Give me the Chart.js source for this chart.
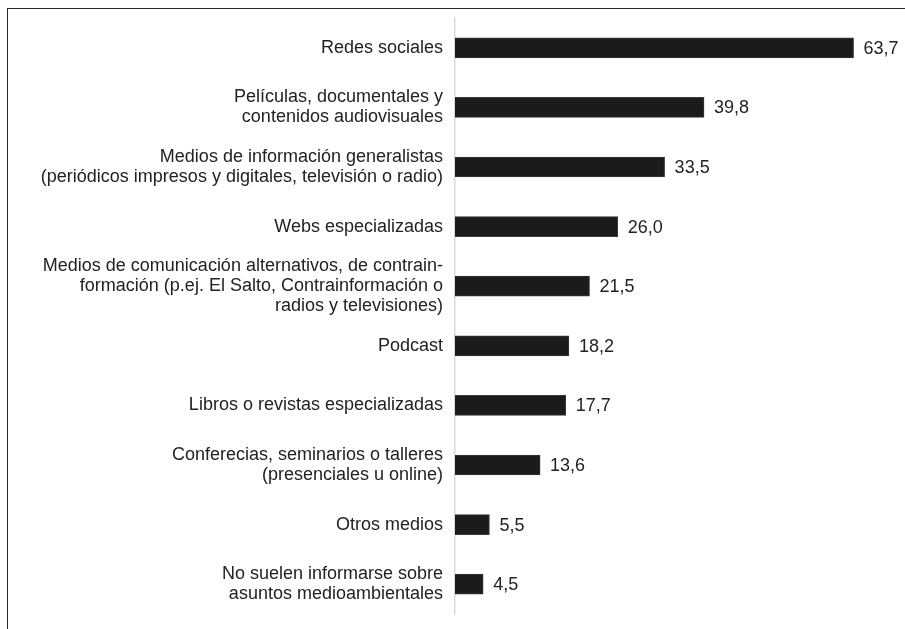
<!DOCTYPE html>
<html>
<head>
<meta charset="utf-8">
<script src="https://cdn.jsdelivr.net/npm/chart.js@4/dist/chart.umd.min.js"></script>
<style>
  html, body { margin: 0; padding: 0; background: #fff; }
  #wrap { position: relative; width: 905px; height: 629px; overflow: hidden; }
  #frame {
    position: absolute; left: 7px; top: 8px; right: -10px; bottom: -10px;
    border-top: 1.5px solid #2a2a2a; border-left: 1.5px solid #2a2a2a;
    pointer-events: none;
  }
  canvas { position: absolute; left: 0; top: 0; }
</style>
</head>
<body>
<div id="wrap">
  <canvas id="fuentesChart" width="905" height="629"></canvas>
  <div id="frame"></div>
</div>
<script>
const categories = [
  'Redes sociales',
  ['Películas, documentales y', 'contenidos audiovisuales'],
  ['Medios de información generalistas', '(periódicos impresos y digitales, televisión o radio)'],
  'Webs especializadas',
  ['Medios de comunicación alternativos, de contrain-', 'formación (p.ej. El Salto, Contrainformación o', 'radios y televisiones)'],
  'Podcast',
  'Libros o revistas especializadas',
  ['Conferecias, seminarios o talleres', '(presenciales u online)'],
  'Otros medios',
  ['No suelen informarse sobre', 'asuntos medioambientales']
];
const percentages = [63.7, 39.8, 33.5, 26.0, 21.5, 18.2, 17.7, 13.6, 5.5, 4.5];

const textFont = { family: '"Liberation Sans", Arial, Helvetica, sans-serif', size: 18 };

// writes each value with a decimal comma just past the end of its bar
const valueLabels = {
  id: 'valueLabels',
  afterDatasetsDraw(chart) {
    const ctx = chart.ctx;
    const meta = chart.getDatasetMeta(0);
    ctx.save();
    ctx.font = `${textFont.size}px ${textFont.family}`;
    ctx.fillStyle = '#222';
    ctx.textAlign = 'left';
    ctx.textBaseline = 'middle';
    meta.data.forEach((bar, i) => {
      const txt = percentages[i].toFixed(1).replace('.', ',');
      ctx.fillText(txt, bar.x + 10, bar.y + 1);
    });
    ctx.restore();
  }
};

const ctx = document.getElementById('fuentesChart').getContext('2d');
new Chart(ctx, {
  type: 'bar',
  data: {
    labels: categories,
    datasets: [{
      data: percentages,
      backgroundColor: '#1b1b1b',
      borderColor: '#3a3a3a',
      borderWidth: 1,
      barThickness: 20
    }]
  },
  options: {
    indexAxis: 'y',
    responsive: false,
    animation: false,
    layout: { padding: { top: 18, bottom: 15, left: 0, right: 12 } },
    plugins: {
      legend: { display: false },
      tooltip: { enabled: false }
    },
    scales: {
      x: {
        display: false,
        min: 0,
        max: 70
      },
      y: {
        afterFit(scale) {
          scale.width = 455;
          scale.paddingTop = 0;
          scale.paddingBottom = 0;
        },
        grid: { display: false },
        border: { display: true, color: '#d9d9d9', width: 1.5 },
        ticks: {
          autoSkip: false,
          color: '#222',
          padding: 4,
          font: { ...textFont, lineHeight: 1.1 }
        }
      }
    }
  },
  plugins: [valueLabels]
});
</script>
</body>
</html>
